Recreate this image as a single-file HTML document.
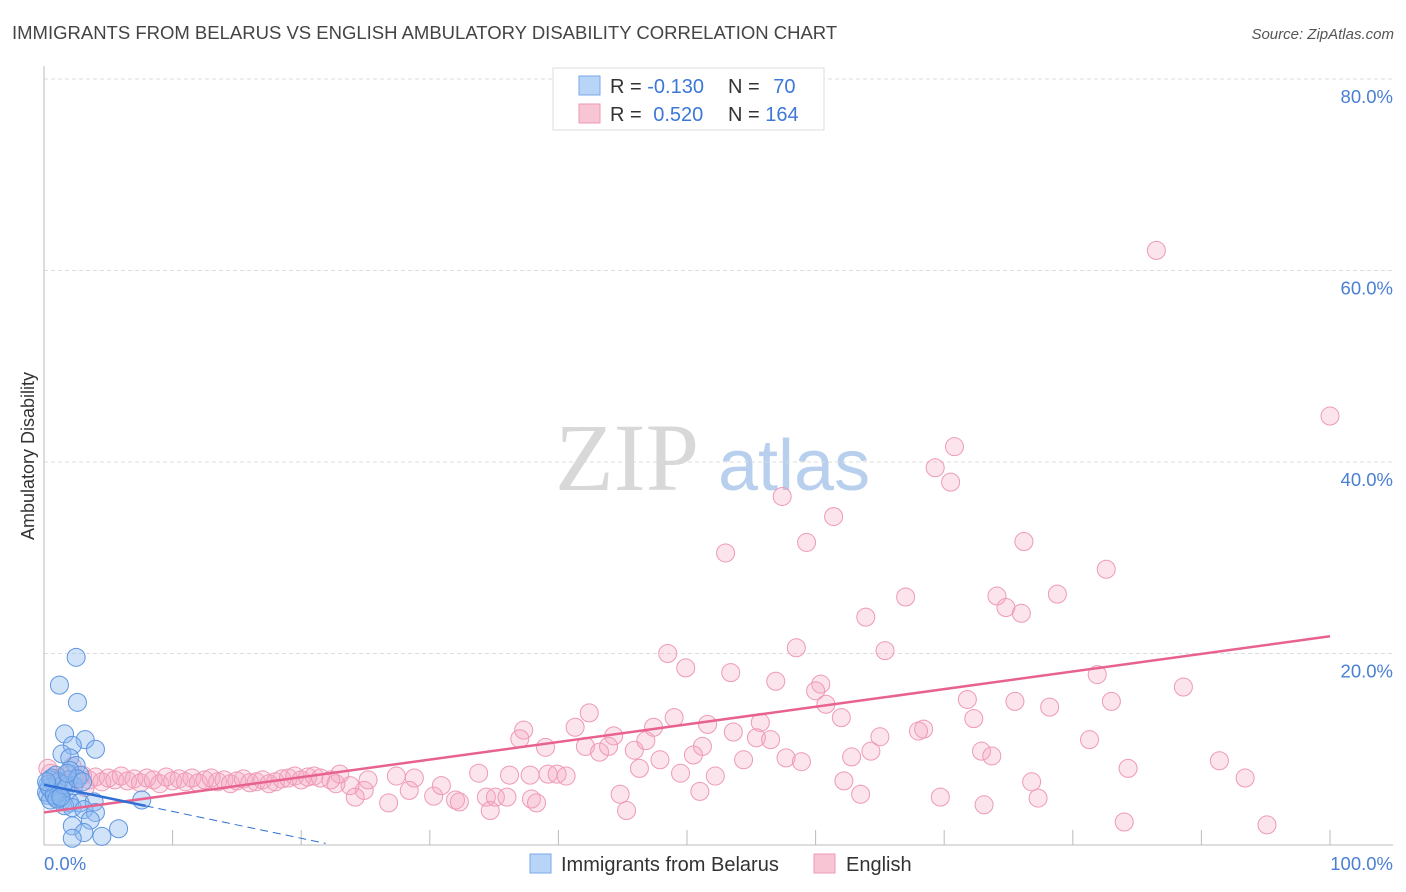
<!DOCTYPE html>
<html><head><meta charset="utf-8"><style>
body{margin:0;background:#fff;font-family:"Liberation Sans",sans-serif;}
svg{display:block}
</style></head><body>
<svg id="c" width="1406" height="892">
<text x="12" y="39" font-size="18.5" fill="#444">IMMIGRANTS FROM BELARUS VS ENGLISH AMBULATORY DISABILITY CORRELATION CHART</text>
<text x="1394" y="39" font-size="15" fill="#555" font-style="italic" text-anchor="end">Source: ZipAtlas.com</text>
<text x="0" y="0" transform="translate(34,456) rotate(-90)" font-size="18" fill="#333" text-anchor="middle">Ambulatory Disability</text>
<g>
<text x="555" y="490" font-size="96" fill="#d8d8d8" font-family="Liberation Serif,serif">ZIP</text>
<text x="718" y="490" font-size="72" fill="#b8d0ee">atlas</text>
</g>
<g id="grid"></g>
<g id="axes"></g>
<g id="pts"></g>
<g id="trends"></g>
<g>
<rect x="553" y="68" width="271" height="62" fill="#fff" stroke="#ddd"/>
<rect x="579" y="76" width="21" height="19" fill="#b8d4f6" stroke="#7aa8e8"/>
<rect x="579" y="104" width="21" height="19" fill="#f8c5d5" stroke="#ee9ab5"/>
<text x="610" y="93" font-size="20" fill="#333">R = <tspan fill="#3d78d8">-0.130</tspan></text>
<text x="728" y="93" font-size="20" fill="#333">N = <tspan fill="#3d78d8" dx="8">70</tspan></text>
<text x="610" y="121" font-size="20" fill="#333">R = <tspan fill="#3d78d8" dx="6">0.520</tspan></text>
<text x="728" y="121" font-size="20" fill="#333">N = <tspan fill="#3d78d8">164</tspan></text>
</g>
<g>
<rect x="530" y="854" width="21" height="19" fill="#b8d4f6" stroke="#7aa8e8"/>
<text x="561" y="871" font-size="20" fill="#333">Immigrants from Belarus</text>
<rect x="814" y="854" width="21" height="19" fill="#f8c5d5" stroke="#ee9ab5"/>
<text x="846" y="871" font-size="20" fill="#333">English</text>
</g>
</svg>
<script>
const yTicks=[20,40,60,80];
const yTickLabels=["20.0%","40.0%","60.0%","80.0%"];
const xTickLabels=["0.0%","100.0%"];
const pinkX=[86.5,100,70.8,69.3,70.5,57.4,61.4,53.0,59.3,76.2,82.6,67.0,74.1,78.8,74.8,76.0,63.9,48.5,58.5,65.4,49.9,53.4,56.9,60.4,60.0,60.8,71.8,75.5,81.9,88.6,83.0,72.3,78.2,62.0,49.0,51.6,42.4,41.3,47.4,44.3,55.7,53.6,37.3,37.0,42.1,39.0,45.9,43.2,43.9,46.8,55.4,56.5,68.4,68.0,65.0,64.3,57.7,51.2,50.5,54.4,58.9,62.8,72.9,73.7,81.3,46.3,47.9,49.5,52.2,39.2,39.9,40.6,37.8,36.2,33.8,84.3,91.4,93.4,76.8,62.2,63.5,51.0,44.8,45.3,69.7,73.1,77.3,84.0,95.1,34.4,35.1,36.0,37.9,38.3,32.0,32.3,34.7,30.3,30.9,28.8,27.4,26.8,28.4,25.2,24.9,23.8,24.2,22.7,23.0,22.3,
0.5,1,1.5,2,2.5,3,3.5,4,4.5,5,5.5,6,6.5,7,7.5,8,8.5,9,9.5,10,10.5,11,11.5,12,12.5,13,13.5,14,14.5,15,15.5,16,16.5,17,17.5,18,18.5,19,19.5,20,20.5,21,21.5,1.2,2.2,3.2,0.3];
const pinkY=[62.1,44.8,41.6,39.4,37.9,36.4,34.3,30.5,31.6,31.7,28.8,25.9,26.0,26.2,24.8,24.2,23.8,20.0,20.6,20.3,18.5,18.0,17.1,16.8,16.1,14.7,15.2,15.0,17.8,16.5,15.0,13.2,14.4,13.3,13.3,12.6,13.8,12.3,12.3,11.4,12.8,11.8,12.0,11.1,10.3,10.2,9.9,9.7,10.3,10.9,11.2,11.0,12.1,11.9,11.3,9.8,9.1,10.3,9.4,8.9,8.7,9.2,9.8,9.3,11.0,8.0,8.9,7.5,7.2,7.4,7.4,7.2,7.3,7.3,7.5,8.0,8.8,7.0,6.6,6.7,5.3,5.6,5.3,3.6,5.0,4.2,4.9,2.4,2.1,5.0,5.0,5.0,4.8,4.4,4.7,4.5,3.6,5.1,6.2,7.0,7.2,4.4,5.7,6.8,5.7,6.2,5.0,6.4,7.4,6.8,
7.5,6.8,7.2,6.5,7.0,7.3,6.8,7.1,6.6,7.0,6.8,7.2,6.7,6.9,6.5,7.0,6.8,6.4,7.1,6.7,6.9,6.6,7.0,6.5,6.8,7.0,6.6,6.8,6.4,6.7,6.9,6.5,6.6,6.8,6.4,6.6,6.9,7.0,7.2,6.8,7.1,7.2,7.0,5.5,8.2,6.0,8.0];
const blueX=[2.5,1.2,2.6,1.6,3.2,4.0,2.2,1.4,2.0,2.5,2.0,1.9,2.8,0.9,0.5,0.3,0.6,0.3,0.9,1.4,2.0,2.8,3.9,7.6,1.6,2.2,3.1,4.0,3.6,2.2,3.1,4.5,5.8,2.2,1.2,1.7,2.3,1.1,0.2,0.5,0.4,0.8,1.0,1.5,0.6,2.6,1.8,3.0,0.2,1.3];
const blueY=[19.6,16.7,14.9,11.6,11.0,10.0,10.4,9.5,9.1,8.3,7.8,6.8,7.3,7.3,6.8,6.3,5.7,5.2,5.0,4.7,4.4,4.4,4.5,4.7,4.1,3.9,3.7,3.4,2.6,2.0,1.3,0.9,1.7,0.7,5.5,6.0,6.2,6.6,5.5,4.7,6.0,5.2,4.8,6.3,7.0,6.9,7.5,6.6,6.6,5.0];
const pinkTrend=[3.4,0.184];
const blueTrend=[6.3,-0.28];
const blueSolidEnd=7.9, blueDashEnd=21.9;

const NS="http://www.w3.org/2000/svg";
const X0=44,X1=1330,Y0=845,YPX=9.575;
const sx=v=>X0+(X1-X0)*v/100;
const sy=v=>Y0-v*YPX;
function mk(tag,attrs,parent){const e=document.createElementNS(NS,tag);for(const k in attrs)e.setAttribute(k,attrs[k]);parent.appendChild(e);return e;}
const grid=document.getElementById('grid'),axes=document.getElementById('axes'),pts=document.getElementById('pts'),tr=document.getElementById('trends');
yTicks.forEach((t,i)=>{
 const l=mk('line',{x1:X0,x2:1393,y1:sy(t),y2:sy(t),stroke:'#ddd','stroke-dasharray':'4,3'},grid);
 
 
 const tx=mk('text',{x:1393,y:sy(t)+24,'font-size':18.5,fill:'#4a7fd4','text-anchor':'end'},grid);
 tx.textContent=yTickLabels[i];
 
 
});
const ya=mk('line',{x1:X0,x2:X0,y1:66,y2:Y0,stroke:'#bbb'},axes);


const xa=mk('line',{x1:X0,x2:1393,y1:Y0,y2:Y0,stroke:'#bbb'},axes);


for(let i=0;i<=10;i++){
 const t=mk('line',{x1:sx(i*10),x2:sx(i*10),y1:Y0-15,y2:Y0,stroke:'#bbb'},axes);
 
 
}
const xl0=mk('text',{x:44,y:870,'font-size':18.5,fill:'#4a7fd4'},axes);xl0.textContent=xTickLabels[0];


const xl1=mk('text',{x:1393,y:870,'font-size':18.5,fill:'#4a7fd4','text-anchor':'end'},axes);xl1.textContent=xTickLabels[1];


pinkX.forEach((x,i)=>{
 const c=mk('circle',{cx:sx(x),cy:sy(pinkY[i]),r:9,fill:'rgba(245,165,192,0.3)',stroke:'#ee9ab5','stroke-width':1},pts);
 
 
});
blueX.forEach((x,i)=>{
 const c=mk('circle',{cx:sx(x),cy:sy(blueY[i]),r:9,fill:'rgba(140,185,240,0.4)',stroke:'#5f95e0','stroke-width':1},pts);
 
 
});
const pl=mk('line',{x1:sx(0),y1:sy(pinkTrend[0]),x2:sx(100),y2:sy(pinkTrend[0]+pinkTrend[1]*100),stroke:'#e8628f','stroke-width':2.5},tr);


const bl=mk('line',{x1:sx(0),y1:sy(blueTrend[0]),x2:sx(blueSolidEnd),y2:sy(blueTrend[0]+blueTrend[1]*blueSolidEnd),stroke:'#2f6fd6','stroke-width':2.5},tr);


const bd=mk('line',{x1:sx(blueSolidEnd),y1:sy(blueTrend[0]+blueTrend[1]*blueSolidEnd),x2:sx(blueDashEnd),y2:sy(blueTrend[0]+blueTrend[1]*blueDashEnd),stroke:'#2f6fd6','stroke-width':1,'stroke-dasharray':'8,5'},tr);


</script>
</body></html>
